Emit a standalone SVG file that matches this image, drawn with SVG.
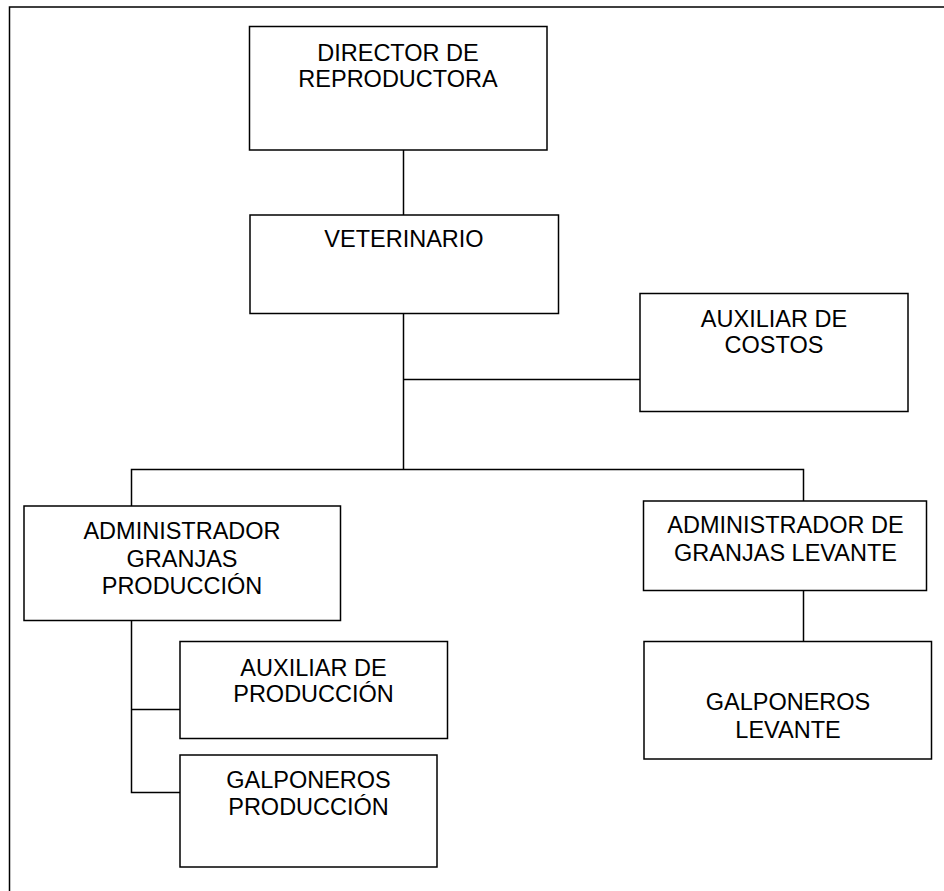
<svg xmlns="http://www.w3.org/2000/svg" width="944" height="891" viewBox="0 0 944 891">
<style>
.box{fill:#fff;stroke:#000;stroke-width:1.5}
.ln{fill:none;stroke:#000;stroke-width:1.5}
text{font-family:"Liberation Sans",Arial,sans-serif;font-size:23.5px;fill:#000;text-anchor:middle}
</style>
<rect width="944" height="891" fill="#fff"/>
<g id="frame">
<path class="ln" d="M944 7H9.5V891"/>
</g>
<g id="connectors">
<path class="ln" d="M403.5 150V215"/>
<path class="ln" d="M403.5 313V469.5"/>
<path class="ln" d="M403.5 379.5H644"/>
<path class="ln" d="M131.5 506V469.5H803.5V501"/>
<path class="ln" d="M131.5 620.5V792.5H180"/>
<path class="ln" d="M131.5 709.5H180"/>
<path class="ln" d="M803.5 590.5V641.5"/>
</g>
<g id="n-director">
<rect class="box" x="249.5" y="26.5" width="297.5" height="123.5"/>
<text x="398" y="61">DIRECTOR DE</text>
<text x="398" y="87.3">REPRODUCTORA</text>
</g>
<g id="n-veterinario">
<rect class="box" x="250" y="215" width="308.5" height="98.5"/>
<text x="404" y="247.3">VETERINARIO</text>
</g>
<g id="n-aux-costos">
<rect class="box" x="640" y="293.5" width="268" height="118"/>
<text x="774" y="326.7">AUXILIAR DE</text>
<text x="774" y="353.3">COSTOS</text>
</g>
<g id="n-admin-produccion">
<rect class="box" x="24" y="506" width="316.5" height="114.5"/>
<text x="182" y="539.3">ADMINISTRADOR</text>
<text x="182" y="566.7">GRANJAS</text>
<text x="182" y="594.3">PRODUCCIÓN</text>
</g>
<g id="n-admin-levante">
<rect class="box" x="643.5" y="501" width="283" height="89.5"/>
<text x="785.5" y="533.3">ADMINISTRADOR DE</text>
<text x="785.5" y="561">GRANJAS LEVANTE</text>
</g>
<g id="n-aux-produccion">
<rect class="box" x="180" y="641.5" width="267.5" height="97"/>
<text x="313.5" y="676">AUXILIAR DE</text>
<text x="313.5" y="702">PRODUCCIÓN</text>
</g>
<g id="n-galp-produccion">
<rect class="box" x="180" y="755" width="257" height="112"/>
<text x="308.5" y="788.3">GALPONEROS</text>
<text x="308.5" y="815">PRODUCCIÓN</text>
</g>
<g id="n-galp-levante">
<rect class="box" x="644" y="641.5" width="287.5" height="117.5"/>
<text x="788" y="710">GALPONEROS</text>
<text x="788" y="738.3">LEVANTE</text>
</g>
</svg>
